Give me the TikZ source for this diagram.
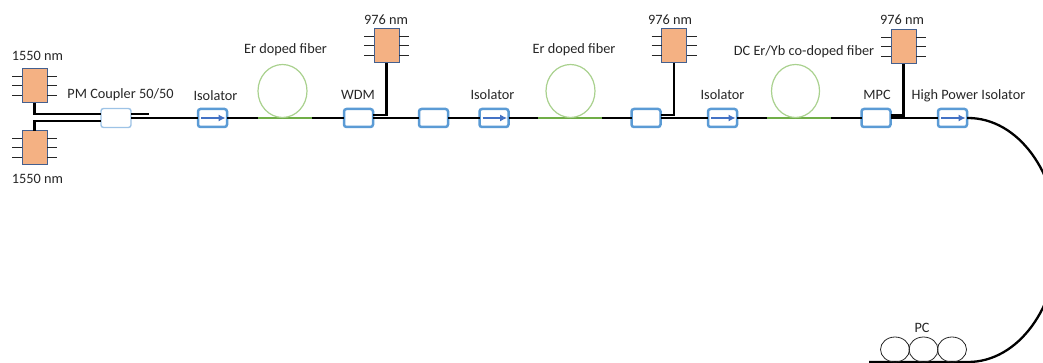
\documentclass[tikz,border=0pt]{standalone}
\usepackage{fontspec}
\setmainfont{Carlito}
\definecolor{lasf}{HTML}{F4B183}
\definecolor{lasd}{HTML}{44608F}
\definecolor{boxb}{HTML}{5B9BD5}
\definecolor{boxl}{HTML}{9DC3E6}
\definecolor{arrowb}{HTML}{4472C4}
\definecolor{greenf}{HTML}{70AD47}
\definecolor{greenl}{HTML}{A9D18E}
\definecolor{txt}{HTML}{262626}
\tikzset{
 x=1pt,y=-1pt,
 laser/.style={draw=lasd,line width=1pt,fill=lasf,minimum width=25pt,minimum height=34pt,inner sep=0pt,outer sep=0pt},
 comp/.style={draw=boxb,line width=2.5pt,fill=white,rounded corners=2.5pt,minimum width=29pt,minimum height=18pt,inner sep=0pt,outer sep=0pt},
 thincomp/.style={comp,draw=boxl,line width=1.4pt,minimum width=30pt,minimum height=19pt},
 fibre/.style={line width=2.3pt,black},
 pump/.style={line width=2.3pt,black},
 gain/.style={line width=2.5pt,greenf},
 coil/.style={draw=greenl,line width=1.2pt},
 pin/.style={line width=1pt,black!85},
 iso/.style={arrowb,line width=1.1pt,-{Latex[length=7pt,width=7pt]}},
 lbl/.style={font=\fontsize{14.3pt}{16pt}\selectfont,text=txt,inner sep=0pt},
 pcroll/.style={draw=black!85,line width=.8pt,fill=none,ellipse,minimum width=29pt,minimum height=25pt,inner sep=0pt,outer sep=0pt}
}
\usetikzlibrary{arrows.meta,shapes.geometric,calc}
\newcommand{\pins}[1]{%
 \foreach \dy in {-9,0,9.5}{
  \draw[pin] ($(#1.west)+(-10,\dy)$) -- ($(#1.west)+(0,\dy)$);
  \draw[pin] ($(#1.east)+(0,\dy)$) -- ($(#1.east)+(10,\dy)$);
 }}
\begin{document}
\begin{tikzpicture}
\useasboundingbox (0,0) rectangle (1043,363);
\clip (0,0) rectangle (1043,363);
% lasers
\node[laser] (L1) at (34.5,86) {};
\node[laser] (L2) at (34.5,148) {};
\node[laser] (P1) at (386.5,46) {};
\node[laser] (P2) at (674,46) {};
\node[laser] (P3) at (903.5,47) {};
\pins{L1}\pins{L2}\pins{P1}\pins{P2}\pins{P3}
% coordinates
\coordinate (c1top) at (149,114);
\coordinate (e1a) at (258,118);
\coordinate (e1b) at (312,118);
\coordinate (e2a) at (538,118);
\coordinate (e2b) at (602,118);
\coordinate (e3a) at (767,118);
\coordinate (e3b) at (831,118);
\coordinate (cIn) at (101,114);
\coordinate (cIn2) at (101,121);
% components
\node[thincomp] (C) at (116,118) {};
\node[comp] (I1) at (212.5,118) {};
\node[comp] (W1) at (358.5,118) {};
\node[comp] (B2) at (433.5,118) {};
\node[comp] (I2) at (494,118) {};
\node[comp] (W2) at (646,118) {};
\node[comp] (I3) at (722.5,118) {};
\node[comp] (M) at (876,118) {};
\node[comp] (I4) at (952.5,118) {};
% fibres
\draw[pump] (L1.south) |- (C.west |- cIn);
\draw[pump] (L2.north) |- (C.west |- cIn2);
\draw[fibre] (C.east |- c1top) -- (c1top);
\draw[fibre] (C.east) -- (I1.west);
\draw[fibre] (I1.east) -- (e1a);
\draw[fibre] (e1b) -- (W1.west);
\draw[fibre] (W1.east) -- (B2.west);
\draw[fibre] (B2.east) -- (I2.west);
\draw[fibre] (I2.east) -- (e2a);
\draw[fibre] (e2b) -- (W2.west);
\draw[fibre] (W2.east) -- (I3.west);
\draw[fibre] (I3.east) -- (e3a);
\draw[fibre] (e3b) -- (M.west);
\draw[fibre] (M.east) -- (I4.west);
\draw[pump] (P1.south) |- ($(W1.east)+(0,-3)$);
\draw[pump] (P2.south) |- ($(W2.east)+(0,-3)$);
\draw[pump] (P3.south) |- ($(M.east)+(0,-2.5)$);
% gain fibres
\draw[gain] (e1a) -- (e1b);
\draw[gain] (e2a) -- (e2b);
\draw[gain] (e3a) -- (e3b);
\draw[coil] (282.5,91) ellipse [x radius=24.5,y radius=26.5];
\draw[coil] (570.5,91) ellipse [x radius=24.5,y radius=26.5];
\draw[coil] (795.5,91) ellipse [x radius=24,y radius=26.5];
% isolator arrows
\foreach \n in {I1,I2,I3,I4}{
 \draw[iso] ($(\n.center)+(-11.5,0)$) -- ($(\n.center)+(13,0)$);
}
% return fibre: its far bulge runs off the right edge of the picture
\coordinate (PCend) at (869,362);
\draw[fibre] (I4.east) -- (968,118) .. controls (1018,118) and (1058,172.6) .. (1058,240)
  .. controls (1058,307.4) and (1018,362) .. (968,362) -- (PCend);
% PC
\node[pcroll] (R1) at (895,349.5) {};
\node[pcroll] (R2) at (923.5,349.5) {};
\node[pcroll] (R3) at (952,349.5) {};
% labels
\node[lbl] at (37.5,56) {1550 nm};
\node[lbl] at (37.5,179) {1550 nm};
\node[lbl] at (120.5,95) {PM Coupler 50/50};
\node[lbl] at (215.5,96) {Isolator};
\node[lbl] at (285.5,50) {Er doped fiber};
\node[lbl] at (358,95) {WDM};
\node[lbl] at (386,20) {976 nm};
\node[lbl] at (492.5,95) {Isolator};
\node[lbl] at (574,50) {Er doped fiber};
\node[lbl] at (670,20) {976 nm};
\node[lbl] at (722.5,95) {Isolator};
\node[lbl] at (804,52) {DC Er/Yb co-doped fiber};
\node[lbl] at (877,95) {MPC};
\node[lbl] at (968.5,96) {High Power Isolator};
\node[lbl] at (902,20) {976 nm};
\node[lbl] at (922,328) {PC};
\end{tikzpicture}
\end{document}
